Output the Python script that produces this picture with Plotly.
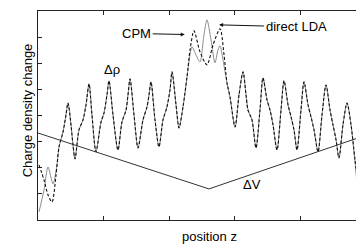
import plotly.graph_objects as go

# Shared part of both curves (left of centre)
common1_x = [0.321, 0.382, 0.427, 0.458, 0.504, 0.534, 0.565, 0.626, 0.687, 0.733,
             0.779, 0.824, 0.885, 0.962, 1.008, 1.053, 1.084, 1.145, 1.221, 1.282,
             1.344, 1.374, 1.405, 1.466, 1.527, 1.603, 1.664, 1.695, 1.725, 1.786,
             1.847, 1.908, 1.969, 2.015, 2.046, 2.107, 2.153, 2.214, 2.275]
common1_y = [2.80, 3.37, 4.02, 4.48, 3.64, 2.87, 2.34, 3.45, 3.83, 4.41,
             5.21, 4.02, 2.61, 3.75, 4.10, 4.79, 5.33, 4.02, 2.68, 3.75,
             4.21, 4.79, 5.40, 4.02, 2.76, 3.83, 4.33, 4.79, 5.29, 3.83,
             2.80, 3.83, 4.33, 4.98, 5.67, 4.41, 3.52, 4.33, 5.48]

# Shared part of both curves (right of centre)
common2_x = [2.885, 2.931, 3.008, 3.069, 3.130, 3.176, 3.206, 3.267, 3.328, 3.389,
             3.435, 3.496, 3.542, 3.588, 3.649, 3.710, 3.756, 3.817, 3.863, 3.908,
             3.954, 4.015, 4.061, 4.122, 4.168, 4.214, 4.275, 4.336, 4.397, 4.458,
             4.504, 4.550, 4.595, 4.656, 4.718, 4.779]
common2_y = [5.25, 4.71, 3.56, 4.79, 5.67, 4.79, 4.21, 3.83, 2.76, 4.21,
             5.44, 4.60, 4.21, 3.64, 2.68, 4.21, 5.33, 4.41, 3.95, 3.45,
             2.68, 4.21, 5.29, 4.41, 3.95, 3.45, 2.61, 4.02, 5.17, 4.21,
             3.64, 3.07, 2.38, 3.64, 4.48, 3.64]

# CPM (dashed) specific segments
cpm_left_x = [0.015, 0.092, 0.153, 0.214, 0.275]
cpm_left_y = [2.11, 1.53, 0.96, 0.69, 1.72]
cpm_mid_x = [2.321, 2.382, 2.473, 2.580, 2.672, 2.779, 2.840]
cpm_mid_y = [6.51, 7.24, 6.44, 5.94, 6.70, 7.32, 6.32]
cpm_right_x = [4.840, 4.901, 4.947, 4.977]
cpm_right_y = [2.30, 1.15, 0.77, 0.57]

# direct LDA (grey solid) specific segments
lda_left_x = [0.015, 0.092, 0.153, 0.229, 0.290]
lda_left_y = [0.31, 1.15, 2.03, 1.38, 2.11]
lda_mid_x = [2.321, 2.351, 2.412, 2.473, 2.534, 2.580, 2.641, 2.702, 2.748, 2.779, 2.824]
lda_mid_y = [6.32, 6.63, 6.32, 6.05, 7.09, 7.66, 6.90, 6.02, 6.51, 6.67, 6.13]
lda_right_x = [4.840, 4.885, 4.931, 4.977]
lda_right_y = [2.22, 1.34, 1.53, 1.84]

# Potential change
dv_x = [0.0, 2.61, 4.977]
dv_y = [3.33, 1.19, 3.22]

x_ticks = [1, 2, 3, 4]
y_ticks = [1, 2, 3, 4, 5, 6, 7]

cpm_x = cpm_left_x + common1_x + cpm_mid_x + common2_x + cpm_right_x
cpm_y = cpm_left_y + common1_y + cpm_mid_y + common2_y + cpm_right_y
lda_x = lda_left_x + common1_x + lda_mid_x + common2_x + lda_right_x
lda_y = lda_left_y + common1_y + lda_mid_y + common2_y + lda_right_y

FONT = "Liberation Sans, Arial, sans-serif"

fig = go.Figure()
fig.add_trace(go.Scatter(x=lda_x, y=lda_y, mode="lines",
                         line=dict(color="#8c8c8c", width=1, shape="spline", smoothing=0.8),
                         showlegend=False, hoverinfo="skip"))
fig.add_trace(go.Scatter(x=cpm_x, y=cpm_y, mode="lines",
                         line=dict(color="#111111", width=1.1, dash="3px,2px",
                                   shape="spline", smoothing=0.8),
                         showlegend=False, hoverinfo="skip"))
fig.add_trace(go.Scatter(x=dv_x, y=dv_y, mode="lines",
                         line=dict(color="#333333", width=1),
                         showlegend=False, hoverinfo="skip"))

txt = dict(family=FONT, size=13, color="#000000")

fig.add_annotation(x=1.13, y=5.75, text="Δρ", showarrow=False, font=txt)
fig.add_annotation(x=3.27, y=1.34, text="ΔV", showarrow=False, font=txt)
fig.add_annotation(x=2.24, y=7.10, text="CPM", showarrow=True, ax=-48, ay=-1,
                   arrowhead=2, arrowsize=0.8, arrowwidth=1, arrowcolor="#111111",
                   font=txt, standoff=0)
fig.add_annotation(x=2.765, y=7.47, text="direct LDA", showarrow=True, ax=77, ay=2,
                   arrowhead=2, arrowsize=0.8, arrowwidth=1, arrowcolor="#111111",
                   font=txt, standoff=0)

fig.add_annotation(x=0.525, y=0, xref="paper", yref="paper", yanchor="top",
                   yshift=-7, text="position z", showarrow=False, font=txt)
fig.add_annotation(x=-0.062, y=0.526, xref="paper", yref="paper",
                   text="Charge density change", textangle=-90, showarrow=False,
                   font=txt)

fig.update_xaxes(range=[0, 4.977], tickvals=x_ticks, showticklabels=False,
                 ticks="inside", ticklen=4, tickcolor="#222222",
                 showline=True, linecolor="#222222", linewidth=1, mirror="ticks",
                 showgrid=False, zeroline=False)
fig.update_yaxes(range=[0, 8], tickvals=y_ticks, showticklabels=False,
                 ticks="inside", ticklen=4, tickcolor="#222222",
                 showline=True, linecolor="#222222", linewidth=1, mirror=False,
                 showgrid=False, zeroline=False)

# page body has an 8px default margin, so the figure is shifted by 8px
fig.update_layout(width=356, height=238, margin=dict(l=30, r=0, t=3, b=26),
                  plot_bgcolor="white", paper_bgcolor="white")

fig.write_html("out.html")
